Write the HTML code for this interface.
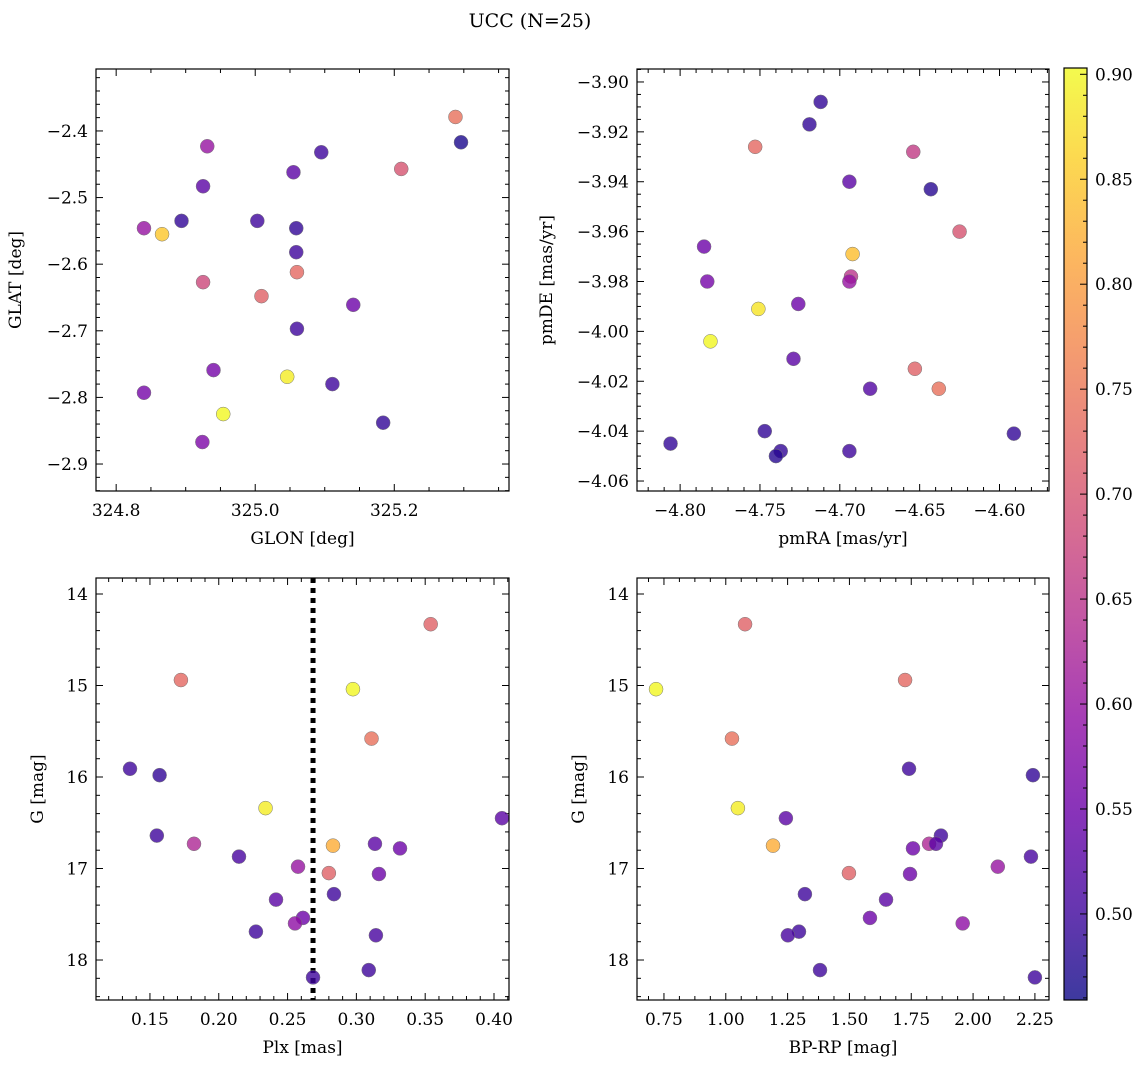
<!DOCTYPE html>
<html><head><meta charset="utf-8"><style>
body{margin:0;background:#fff;}
svg text{font-family:"DejaVu Serif","Liberation Serif",serif;fill:#000;}
</style></head><body>
<svg id="fig" width="1148" height="1068" xmlns="http://www.w3.org/2000/svg">
<text x="530" y="27" font-size="19" text-anchor="middle">UCC (N=25)</text>
</svg>
<script>
// Panel 1 data
const glon=[325.288,325.296,325.210,325.095,325.055,324.931,324.925,324.894,325.003,325.059,324.840,324.866,325.059,325.060,324.925,325.009,325.141,325.060,324.940,325.046,325.111,324.954,324.840,325.184,324.924];
const glat=[-2.379,-2.417,-2.457,-2.432,-2.462,-2.423,-2.483,-2.535,-2.535,-2.546,-2.546,-2.555,-2.582,-2.612,-2.627,-2.648,-2.661,-2.697,-2.759,-2.769,-2.780,-2.825,-2.793,-2.838,-2.867];
const prob1=[0.74,0.47,0.70,0.50,0.53,0.60,0.53,0.49,0.50,0.49,0.60,0.85,0.50,0.73,0.68,0.72,0.55,0.50,0.56,0.89,0.50,0.90,0.56,0.49,0.57];
// Panel 2 data
const pmra=[-4.712,-4.719,-4.753,-4.654,-4.694,-4.643,-4.625,-4.785,-4.692,-4.693,-4.694,-4.783,-4.726,-4.751,-4.781,-4.729,-4.681,-4.653,-4.638,-4.806,-4.747,-4.737,-4.740,-4.694,-4.591];
const pmde=[-3.908,-3.917,-3.926,-3.928,-3.940,-3.943,-3.960,-3.966,-3.969,-3.978,-3.980,-3.980,-3.989,-3.991,-4.004,-4.011,-4.023,-4.015,-4.023,-4.045,-4.040,-4.048,-4.050,-4.048,-4.041];
const prob2=[0.49,0.49,0.73,0.66,0.53,0.48,0.70,0.55,0.84,0.65,0.60,0.56,0.55,0.88,0.90,0.53,0.52,0.72,0.74,0.49,0.49,0.49,0.48,0.50,0.49];
// Panels 3-4 data
const gmag=[14.33,14.94,15.04,15.58,15.91,15.98,16.34,16.45,16.64,16.73,16.75,16.73,16.78,16.87,16.98,17.05,17.06,17.28,17.34,17.54,17.60,17.69,17.73,18.11,18.19];
const plx=[0.354,0.1725,0.2975,0.311,0.1355,0.157,0.234,0.4058,0.155,0.182,0.283,0.3135,0.3317,0.2147,0.2576,0.280,0.3164,0.2837,0.2416,0.2612,0.2554,0.227,0.3142,0.309,0.2685];
const bprp=[1.078,1.725,0.718,1.025,1.741,2.242,1.049,1.243,1.870,1.822,1.191,1.850,1.757,2.234,2.100,1.498,1.745,1.320,1.648,1.583,1.958,1.296,1.251,1.381,2.250];
const prob3=[0.72,0.73,0.90,0.74,0.50,0.49,0.89,0.53,0.50,0.63,0.82,0.53,0.55,0.51,0.60,0.72,0.55,0.50,0.53,0.55,0.59,0.50,0.51,0.50,0.50];
const plxLine=0.2685;
const cbTicks=[0.50,0.55,0.60,0.65,0.70,0.75,0.80,0.85,0.90];

const NS="http://www.w3.org/2000/svg";
const svg=document.getElementById('fig');
function mk(tag,attrs,parent){const e=document.createElementNS(NS,tag);for(const k in attrs)e.setAttribute(k,attrs[k]);(parent||svg).appendChild(e);return e;}
const stops=["#0d0887","#41049d","#6a00a8","#8f0da4","#b12a90","#cc4778","#e16462","#f2844b","#fca636","#fcce25","#f0f921"];
function hx(h){return [1,3,5].map(i=>parseInt(h.substr(i,2),16));}
const VMIN=0.459,VMAX=0.903;
function cmap(v){let t=(v-VMIN)/(VMAX-VMIN);t=Math.max(0,Math.min(1,t))*10;const i=Math.min(9,Math.floor(t)),f=t-i;const a=hx(stops[i]),b=hx(stops[i+1]);return `rgb(${a.map((c,k)=>Math.round(c+(b[k]-c)*f)).join(',')})`;}
function fmt(v,d){return (v<0?'\u2212':'')+Math.abs(v).toFixed(d);}
const FS=17;

function panel(o){
  const g=mk('g',{});
  
  
  const sx=v=>o.x0+(v-o.xmin)/(o.xmax-o.xmin)*(o.x1-o.x0);
  const sy=o.inv?(v=>o.y0+(v-o.ymin)/(o.ymax-o.ymin)*(o.y1-o.y0)):(v=>o.y1-(v-o.ymin)/(o.ymax-o.ymin)*(o.y1-o.y0));
  function ticks(axis,step,nminor,dec){
    const lo=axis=='x'?o.xmin:o.ymin,hi=axis=='x'?o.xmax:o.ymax;
    const ms=step/nminor;
    for(let k=Math.ceil(lo/ms-1e-6);k*ms<=hi+1e-9;k++){
      const v=k*ms;const major=Math.abs(Math.round(v/step)*step-v)<1e-7;
      const L=major?7:4;
      if(axis=='x'){const p=sx(v);
        mk('line',{x1:p,x2:p,y1:o.y1,y2:o.y1-L,stroke:'#000','stroke-width':1},g);
        mk('line',{x1:p,x2:p,y1:o.y0,y2:o.y0+L,stroke:'#000','stroke-width':1},g);
        if(major){const t=mk('text',{x:p,y:o.y1+25,'font-size':FS,'text-anchor':'middle'},g);t.textContent=fmt(v,dec);
          }
      }else{const p=sy(v);
        mk('line',{x1:o.x0,x2:o.x0+L,y1:p,y2:p,stroke:'#000','stroke-width':1},g);
        mk('line',{x1:o.x1,x2:o.x1-L,y1:p,y2:p,stroke:'#000','stroke-width':1},g);
        if(major){const t=mk('text',{x:o.x0-8,y:p+6,'font-size':FS,'text-anchor':'end'},g);t.textContent=fmt(v,dec);
          }
      }
    }
  }
  ticks('x',o.xs,o.xn,o.xd);ticks('y',o.ys,o.yn,o.yd);
  if(o.vline!==undefined){const l=mk('line',{x1:sx(o.vline),x2:sx(o.vline),y1:o.y0,y2:o.y1,stroke:'#000','stroke-width':5,'stroke-dasharray':'5,5'},g);
    }
  for(let i=0;i<o.X.length;i++){
    const c=mk('circle',{cx:sx(o.X[i]),cy:sy(o.Y[i]),r:7,fill:cmap(o.C[i]),'fill-opacity':0.8,stroke:'#777','stroke-width':0.5},g);
    
    
  }
  const fr=mk('rect',{x:o.x0,y:o.y0,width:o.x1-o.x0,height:o.y1-o.y0,fill:'none',stroke:'#000','stroke-width':1.2},g);
  
  const xl=mk('text',{x:(o.x0+o.x1)/2,y:o.y1+53,'font-size':FS,'text-anchor':'middle'},g);xl.textContent=o.xlab;
  
  const yx=o.x0-o.ylo, yy=(o.y0+o.y1)/2;
  const yl=mk('text',{x:yx,y:yy,'font-size':FS,'text-anchor':'middle',transform:`rotate(-90 ${yx} ${yy})`},g);yl.textContent=o.ylab;
  
}
panel({name:'glon-glat-panel',x0:96,x1:509,y0:69,y1:491,xmin:324.771,xmax:325.365,ymin:-2.9405,ymax:-2.307,xs:0.2,xn:4,xd:1,ys:0.1,yn:5,yd:1,X:glon,Y:glat,C:prob1,xlab:'GLON [deg]',ylab:'GLAT [deg]',ylo:75});
panel({name:'pm-panel',x0:637,x1:1049,y0:69,y1:491,xmin:-4.827,xmax:-4.569,ymin:-4.064,ymax:-3.8948,xs:0.05,xn:5,xd:2,ys:0.02,yn:4,yd:2,X:pmra,Y:pmde,C:prob2,xlab:'pmRA [mas/yr]',ylab:'pmDE [mas/yr]',ylo:85});
panel({name:'plx-g-panel',x0:96,x1:509,y0:578,y1:1000,xmin:0.1108,xmax:0.4109,ymin:13.825,ymax:18.437,inv:true,xs:0.05,xn:5,xd:2,ys:1,yn:5,yd:0,X:plx,Y:gmag,C:prob3,xlab:'Plx [mas]',ylab:'G [mag]',ylo:53,vline:plxLine});
panel({name:'cmd-panel',x0:637,x1:1049,y0:578,y1:1000,xmin:0.641,xmax:2.307,ymin:13.825,ymax:18.437,inv:true,xs:0.25,xn:4,xd:2,ys:1,yn:5,yd:0,X:bprp,Y:gmag,C:prob3,xlab:'BP-RP [mag]',ylab:'G [mag]',ylo:53});

const cb=mk('g',{});


const cx0=1064,cx1=1087,cy0=68,cy1=1000;
const cs=v=>cy1-(v-VMIN)/(VMAX-VMIN)*(cy1-cy0);
const grad=mk('linearGradient',{id:'pl',x1:0,y1:1,x2:0,y2:0},mk('defs',{},cb));
stops.forEach((s,i)=>mk('stop',{offset:i/10,'stop-color':s},grad));
mk('rect',{x:cx0,y:cy0,width:cx1-cx0,height:cy1-cy0,fill:'url(#pl)','fill-opacity':0.8},cb);
for(let k=Math.ceil(VMIN/0.01);k*0.01<=VMAX;k++){const v=k*0.01;const major=k%5==0;const p=cs(v);
  mk('line',{x1:cx1,x2:cx1-(major?7:4),y1:p,y2:p,stroke:'#000','stroke-width':1},cb);
  if(major){const t=mk('text',{x:cx1+8,y:p+6,'font-size':FS},cb);t.textContent=v.toFixed(2);
    }}
mk('rect',{x:cx0,y:cy0,width:cx1-cx0,height:cy1-cy0,fill:'none',stroke:'#000','stroke-width':1.2},cb);
</script>
</body></html>
